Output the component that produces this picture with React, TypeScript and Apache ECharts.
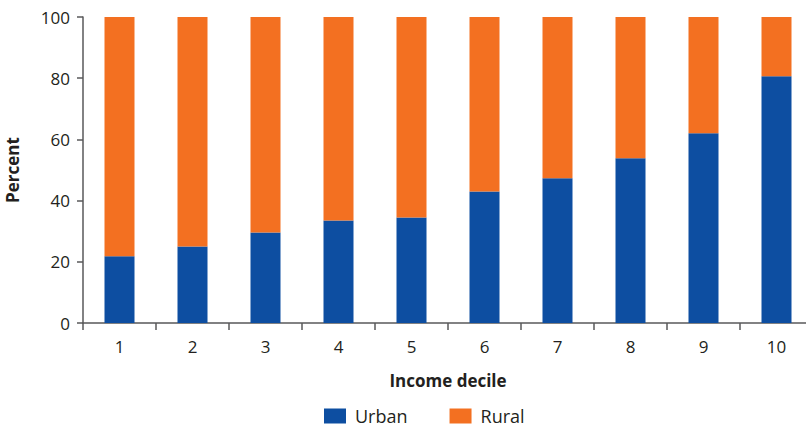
import React, { useEffect, useRef } from "react";
import * as echarts from "echarts";

const categories = ["1", "2", "3", "4", "5", "6", "7", "8", "9", "10"];
const urban = [21.8, 25.0, 29.6, 33.5, 34.5, 43.0, 47.3, 53.8, 62.0, 80.6];
const rural = [78.2, 75.2, 70.4, 66.5, 65.8, 57.3, 52.7, 46.2, 38.0, 19.4];
const yTicks = [0, 20, 40, 60, 80, 100];

const FONT = "'Open Sans', 'Noto Sans', sans-serif";
const TEXT = "#231f20";
const AXIS = "#58585a";

export default function App() {
  const ref = useRef<HTMLDivElement>(null);
  useEffect(() => {
    if (!ref.current) return;
    const chart = echarts.init(ref.current, null, { renderer: "svg" });
    chart.setOption({
      animation: false,
      grid: {
        left: 83,
        right: -7,
        top: 17,
        bottom: 105,
        containLabel: false,
        outerBoundsMode: "none",
      },
      legend: {
        top: 407,
        left: 324,
        icon: "rect",
        itemWidth: 22,
        itemHeight: 15,
        itemGap: 42,
        padding: 0,
        textStyle: {
          fontFamily: FONT,
          fontSize: 18,
          lineHeight: 16,
          color: TEXT,
          padding: [0, 0, 0, 4],
        },
        data: ["Urban", "Rural"],
      },
      xAxis: {
        type: "category",
        data: categories,
        name: "Income decile",
        nameLocation: "middle",
        nameGap: 49,
        nameTextStyle: { fontFamily: FONT, fontSize: 17, fontWeight: "bold", color: TEXT },
        axisLine: { lineStyle: { color: AXIS, width: 1.5 } },
        axisTick: { show: true, length: 7, lineStyle: { color: AXIS, width: 1.5 } },
        axisLabel: { fontFamily: FONT, fontSize: 17, color: TEXT, margin: 15 },
      },
      yAxis: {
        type: "value",
        min: yTicks[0],
        max: yTicks[yTicks.length - 1],
        interval: 20,
        name: "Percent",
        nameLocation: "middle",
        nameGap: 62,
        nameTextStyle: { fontFamily: FONT, fontSize: 17, fontWeight: "bold", color: TEXT },
        axisLine: { show: true, lineStyle: { color: AXIS, width: 1.5 } },
        axisTick: { show: true, length: 6, lineStyle: { color: AXIS, width: 1.5 } },
        splitLine: { show: false },
        axisLabel: { fontFamily: FONT, fontSize: 17, color: TEXT, margin: 13 },
      },
      series: [
        {
          name: "Urban",
          type: "bar",
          stack: "total",
          barWidth: 30,
          data: urban,
          itemStyle: { color: "#0d4ea1" },
        },
        {
          name: "Rural",
          type: "bar",
          stack: "total",
          barWidth: 30,
          data: rural,
          itemStyle: { color: "#f37021" },
        },
      ],
    });
    return () => chart.dispose();
  }, []);
  return <div ref={ref} style={{ width: 806, height: 428, position: "absolute", left: 0, top: 0 }} />;
}
